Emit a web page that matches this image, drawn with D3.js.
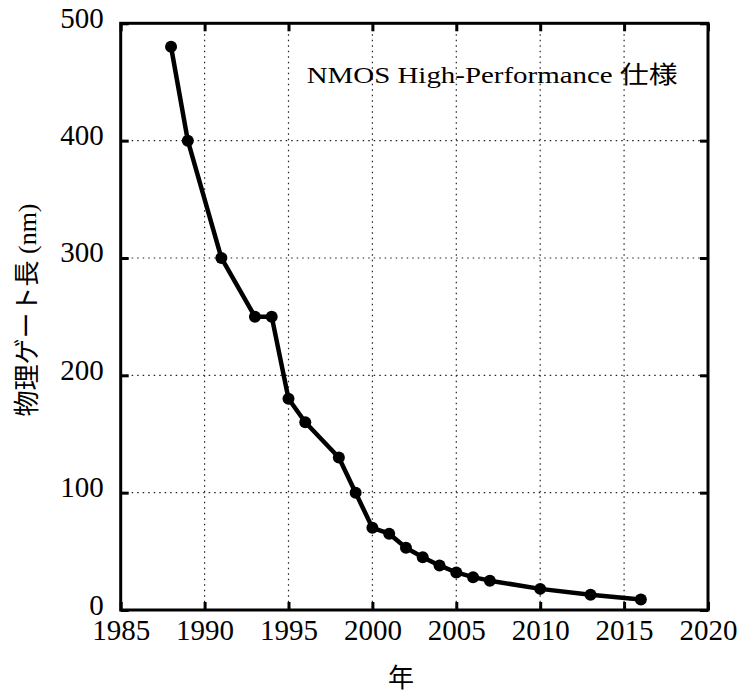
<!DOCTYPE html>
<html>
<head>
<meta charset="utf-8">
<script src="https://cdn.jsdelivr.net/npm/d3@7"></script>
<style>
  body { margin: 0; background: #fff; }
  text { font-family: "Liberation Serif", "Noto Sans CJK JP", serif; fill: #000; }
</style>
</head>
<body>
<div id="chart"></div>
<script>
var years = [1988, 1989, 1991, 1993, 1994, 1995, 1996, 1998, 1999, 2000, 2001, 2002, 2003, 2004, 2005, 2006, 2007, 2010, 2013, 2016];
var gateLength = [480, 400, 300, 250, 250, 180, 160, 130, 100, 70, 65, 53, 45, 38, 32, 28, 25, 18, 13, 9];
var xTicks = [1985, 1990, 1995, 2000, 2005, 2010, 2015, 2020];
var yTicks = [0, 100, 200, 300, 400, 500];

var width = 737,
  height = 692;
var plotL = 120.7, plotR = 708, plotT = 23.3, plotB = 610;

var svg = d3.select("#chart").append("svg")
  .attr("width", width)
  .attr("height", height);

var x = d3.scaleLinear().domain([1985, 2020]).range([plotL, plotR]);
var y = d3.scaleLinear().domain([0, 500]).range([plotB, plotT]);

// dotted grid
svg.append("g").selectAll("line")
  .data(xTicks.slice(1, -1))
  .enter().append("line")
  .attr("x1", d => x(d)).attr("x2", d => x(d))
  .attr("y1", plotT).attr("y2", plotB)
  .attr("stroke", "#222").attr("stroke-width", 1.2)
  .attr("stroke-dasharray", "1.5,4");
svg.append("g").selectAll("line")
  .data(yTicks.slice(1, -1))
  .enter().append("line")
  .attr("x1", plotL).attr("x2", plotR)
  .attr("y1", d => y(d)).attr("y2", d => y(d))
  .attr("stroke", "#222").attr("stroke-width", 1.2)
  .attr("stroke-dasharray", "1.5,4");

// axes with inward ticks on all sides
var tickLen = 8;
var bottomAxis = d3.axisBottom(x).tickValues(xTicks).tickFormat(d3.format("d")).tickSizeInner(-tickLen).tickSizeOuter(0);
var topAxis = d3.axisTop(x).tickValues(xTicks).tickSizeInner(-tickLen).tickSizeOuter(0).tickFormat("");
var leftAxis = d3.axisLeft(y).tickValues(yTicks).tickSizeInner(-tickLen).tickSizeOuter(0);
var rightAxis = d3.axisRight(y).tickValues(yTicks).tickSizeInner(-tickLen).tickSizeOuter(0).tickFormat("");

function styleAxis(g) {
  g.select(".domain").remove();
  g.selectAll(".tick line").attr("stroke", "#000").attr("stroke-width", 3);
  g.selectAll(".tick text").style("font-size", "29px").attr("fill", "#000");
}

svg.append("g").attr("transform", `translate(0,${plotB})`).call(bottomAxis).call(styleAxis)
  .selectAll(".tick text").attr("y", 30).attr("dy", 0);
svg.append("g").attr("transform", `translate(0,${plotT})`).call(topAxis).call(styleAxis);
svg.append("g").attr("transform", `translate(${plotL},0)`).call(leftAxis).call(styleAxis)
  .selectAll(".tick text").attr("x", -17).attr("y", 4).attr("dy", 0);
svg.append("g").attr("transform", `translate(${plotR},0)`).call(rightAxis).call(styleAxis);

// frame
svg.append("rect")
  .attr("x", plotL).attr("y", plotT)
  .attr("width", plotR - plotL).attr("height", plotB - plotT)
  .attr("fill", "none").attr("stroke", "#000").attr("stroke-width", 3);

// series
var pts = years.map((d, i) => [d, gateLength[i]]);
svg.append("path")
  .datum(pts)
  .attr("d", d3.line().x(d => x(d[0])).y(d => y(d[1])))
  .attr("fill", "none").attr("stroke", "#000")
  .attr("stroke-width", 4.5).attr("stroke-linejoin", "round");
svg.append("g").selectAll("circle")
  .data(pts)
  .enter().append("circle")
  .attr("cx", d => x(d[0])).attr("cy", d => y(d[1]))
  .attr("r", 6).attr("fill", "#000");

// labels
svg.append("text")
  .attr("x", 306.7).attr("y", 83)
  .attr("textLength", 371)
  .attr("lengthAdjust", "spacingAndGlyphs")
  .style("font-size", "24px")
  .text("NMOS High-Performance 仕様");

svg.append("text")
  .attr("transform", "translate(36,310) rotate(-90)")
  .attr("text-anchor", "middle")
  .style("font-size", "26px")
  .text("物理ゲート長 (nm)");

svg.append("text")
  .attr("x", 401).attr("y", 687)
  .attr("text-anchor", "middle")
  .style("font-size", "26px")
  .text("年");
</script>
</body>
</html>
